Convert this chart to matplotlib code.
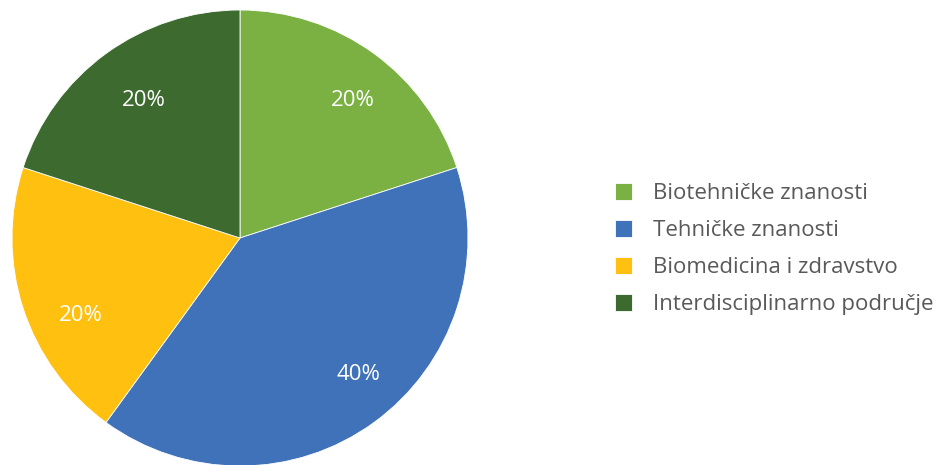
import matplotlib.pyplot as plt
from matplotlib.transforms import offset_copy

labels = ["Biotehničke znanosti", "Tehničke znanosti", "Biomedicina i zdravstvo", "Interdisciplinarno područje"]
shares = [20, 40, 20, 20]
colors = ["#7AB142", "#3F72B9", "#FFC010", "#3D6B2F"]

plt.rcParams['font.family'] = ['Open Sans', 'DejaVu Sans']

fig = plt.figure(figsize=(9.38, 4.65), dpi=100)
ax = fig.add_axes([12 / 938, (465 - 238 - 228) / 465, 456 / 938, 456 / 465])

wedges, texts, autotexts = ax.pie(
    shares, colors=colors, startangle=90, counterclock=False,
    autopct="%d%%", pctdistance=0.79, radius=1,
    wedgeprops=dict(edgecolor="white", linewidth=0.6),
    textprops=dict(color="white", fontsize=16))
ax.set_xlim(-1, 1)
ax.set_ylim(-1, 1)
ax.set_aspect("equal")
ax.axis("off")

# nudge the percent labels to where the original placed them (pixels)
nudges = [(7, -8), (13, 9), (12, -22), (10, -8)]
for t, (dx, dy) in zip(autotexts, nudges):
    t.set_transform(offset_copy(ax.transData, fig=fig, x=dx, y=dy, units="dots"))

fig.legend(wedges, labels, loc="center left",
           bbox_to_anchor=(615 / 938, (465 - 249) / 465),
           frameon=False, fontsize=16, labelcolor="#595959",
           handlelength=0.77, handleheight=0.77, handletextpad=0.95,
           labelspacing=0.72, borderpad=0, borderaxespad=0)

fig.savefig("out.png", dpi=100)
